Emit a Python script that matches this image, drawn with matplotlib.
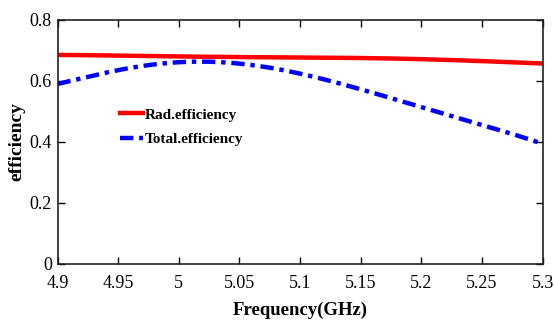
import numpy as np
import matplotlib
matplotlib.use("Agg")
import matplotlib.pyplot as plt

freq = [4.9, 4.95, 5.0, 5.05, 5.1, 5.15, 5.2, 5.25, 5.3]
rad_eff = [0.684, 0.682, 0.679, 0.677, 0.676, 0.674, 0.670, 0.664, 0.656]
total_eff = [0.589, 0.635, 0.659, 0.656, 0.624, 0.570, 0.514, 0.455, 0.393]
xticks = [4.9, 4.95, 5.0, 5.05, 5.1, 5.15, 5.2, 5.25, 5.3]
xlabels = ['4.9', '4.95', '5', '5.05', '5.1', '5.15', '5.2', '5.25', '5.3']
yticks = [0, 0.2, 0.4, 0.6, 0.8]
ylabels = ['0', '0.2', '0.4', '0.6', '0.8']

plt.rcParams['font.family'] = ['Liberation Serif', 'DejaVu Serif']

fig = plt.figure(figsize=(5.54, 3.25), dpi=100)
ax = fig.add_axes([57.5/554, 1-264/325, (542.7-57.5)/554, (264-19.5)/325])

# smooth curves through the read points
xs = np.linspace(4.9, 5.3, 200)
def smooth(x, y):
    c = np.polyfit(x, y, 5)
    return np.polyval(c, xs)

ax.plot(xs, smooth(freq, rad_eff), color='#ff0000', lw=3.2, label='Rad.efficiency')
ax.plot(xs, smooth(freq, total_eff), color='#0000ff', lw=3.2,
        dashes=(3, 1.3, 1, 1.3), label='Total.efficiency')

ax.set_xlim(4.9, 5.3)
ax.set_ylim(0, 0.8)
ax.set_xticks(xticks)
ax.set_xticklabels(xlabels)
ax.set_yticks(yticks)
ax.set_yticklabels(ylabels)
ax.tick_params(direction='in', top=True, right=True, length=5, width=1,
               labelsize=13)
ax.tick_params(axis='x', pad=8)
ax.tick_params(axis='y', pad=4)
for s in ax.spines.values():
    s.set_linewidth(1.2)
    s.set_color('#222222')

ax.set_xlabel('Frequency(GHz)', fontsize=13.5, fontweight='bold', labelpad=7)
ax.set_ylabel('efficiency', fontsize=14, fontweight='bold', labelpad=3)

leg = ax.legend(loc='upper left', bbox_to_anchor=(0.1, 0.695), frameon=False,
                fontsize=11, handlelength=1.5, handletextpad=0.15,
                labelspacing=0.7)
for t in leg.get_texts():
    t.set_fontweight('bold')

fig.savefig('out.png', dpi=100)
